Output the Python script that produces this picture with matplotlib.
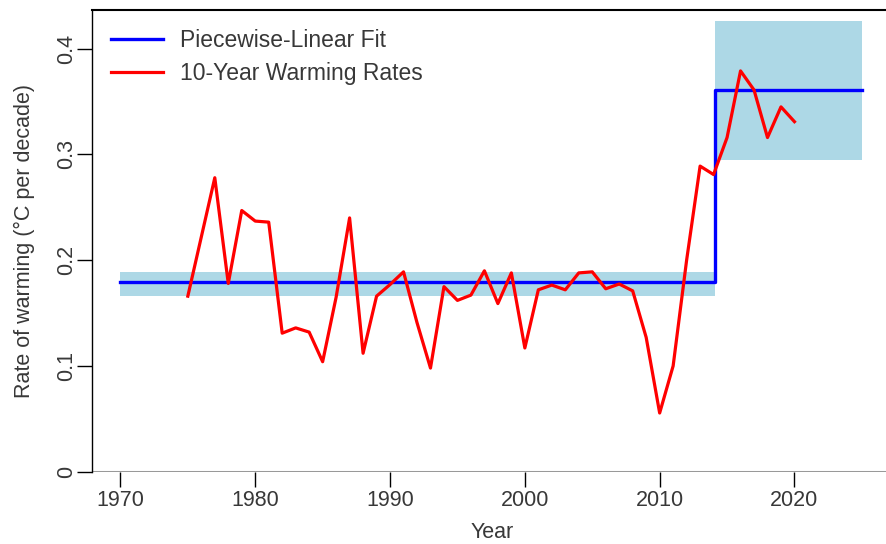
import numpy as np
import matplotlib.pyplot as plt

# 10-year trailing warming rates (degC per decade)
years = np.arange(1975, 2021)
rates = [0.166, 0.222, 0.278, 0.178, 0.247, 0.237, 0.236, 0.131, 0.136, 0.132,
         0.104, 0.165, 0.240, 0.112, 0.166, 0.177, 0.189, 0.141, 0.098, 0.175,
         0.162, 0.167, 0.190, 0.159, 0.188, 0.117, 0.172, 0.1765, 0.172, 0.188,
         0.189, 0.173, 0.1775, 0.171, 0.127, 0.0555, 0.100, 0.200, 0.289, 0.281,
         0.316, 0.379, 0.361, 0.316, 0.345, 0.331]

# piecewise fit: segment edges, fitted level and uncertainty band per segment
seg_edges = [1970, 2014.1, 2025]
seg_level = [0.179, 0.361]
seg_low = [0.166, 0.295]
seg_high = [0.189, 0.426]

xticks = [1970, 1980, 1990, 2000, 2010, 2020]
yticks = [0, 0.1, 0.2, 0.3, 0.4]

plt.rcParams['font.family'] = ['Liberation Sans', 'DejaVu Sans']
txt = '#383838'

fig = plt.figure(figsize=(8.87, 5.44), dpi=100)
ax = fig.add_axes([0.1037, 0.1329, 0.9014, 0.8487])

for i in range(len(seg_level)):
    ax.fill_between([seg_edges[i], seg_edges[i + 1]], seg_low[i], seg_high[i],
                    color='#ADD8E6', lw=0, zorder=1)

fit_x = [seg_edges[0], seg_edges[1], seg_edges[1], seg_edges[2]]
fit_y = [seg_level[0], seg_level[0], seg_level[1], seg_level[1]]
ax.plot(fit_x, fit_y, color='#0000FF', lw=2.4, zorder=3, label='Piecewise-Linear Fit')
ax.plot(years, rates, color='#FF0000', lw=2.3, zorder=4, label='10-Year Warming Rates')

ax.axhline(0, color='#999999', lw=2.2, zorder=2)

ax.set_xlim(1967.89, 2027.2)
ax.set_ylim(0, 0.4366)
ax.set_xticks(xticks)
ax.set_xticklabels([str(t) for t in xticks])
ax.set_yticks(yticks)
ax.set_yticklabels(['0', '0.1', '0.2', '0.3', '0.4'], rotation=90, va='center')

ax.tick_params(axis='both', length=11, width=1, colors='black', labelcolor=txt,
               labelsize=15.5)
ax.tick_params(axis='x', pad=2)
ax.tick_params(axis='y', pad=0)

for s in ['right', 'bottom']:
    ax.spines[s].set_visible(False)
ax.spines['left'].set_linewidth(1)
ax.spines['top'].set_linewidth(1.5)

ax.set_xlabel('Year', fontsize=15.5, color=txt, labelpad=8)
ax.set_ylabel('Rate of warming (°C per decade)', fontsize=15.5, color=txt, labelpad=15)

leg = ax.legend(loc='upper left', frameon=False, prop={'size': 16.5},
                handlelength=2.27, handletextpad=0.7, borderaxespad=0.45,
                borderpad=0.4, labelspacing=0.4)
for t in leg.get_texts():
    t.set_color(txt)

fig.savefig('out.png', dpi=100)
